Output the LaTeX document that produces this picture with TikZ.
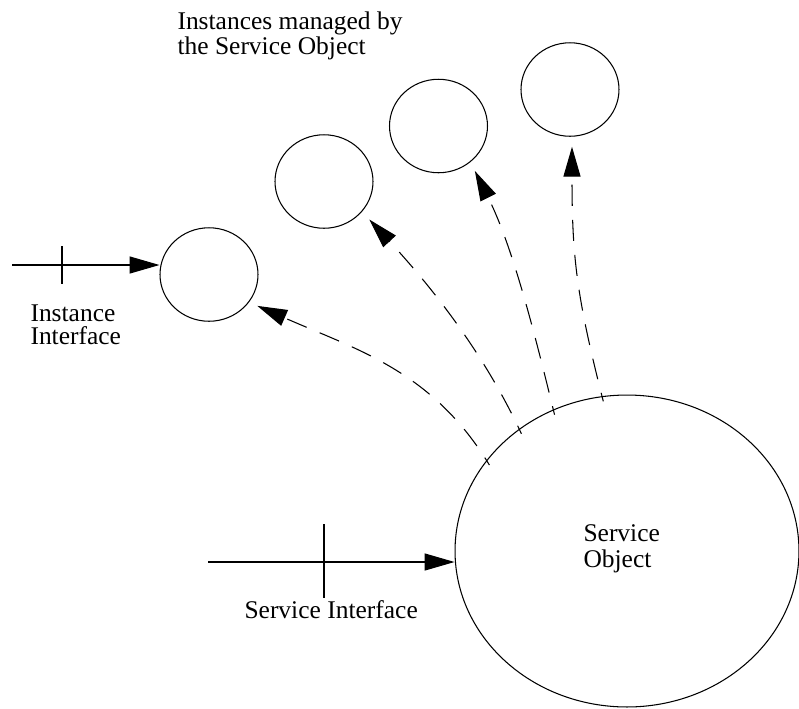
\documentclass[tikz,border=0pt]{standalone}
\usepackage{fontspec}
\setmainfont{Liberation Serif}
\usetikzlibrary{arrows.meta,shapes.geometric,calc}
\begin{document}
\begin{tikzpicture}[x=0.02cm,y=-0.02cm,line width=0.6pt,
  inst/.style={draw,ellipse,inner sep=0pt,minimum width=1.96cm,minimum height=1.87cm},
  svc/.style={draw,ellipse,inner sep=0pt,minimum width=6.88cm,minimum height=6.24cm},
  lbl/.style={inner sep=0pt,align=left},
  solidarr/.style={-{Triangle[length=17pt,width=9.7pt]}},
  dasharr/.style={dash pattern=on 12pt off 8pt,dash phase=7pt,-{Triangle[length=17pt,width=9.7pt]}}]
\useasboundingbox (0,0) rectangle (799,708);

% instance objects
\node[inst] (i1) at (209,274.5) {};
\node[inst] (i2) at (324,181.5) {};
\node[inst] (i3) at (438.5,126) {};
\node[inst] (i4) at (570,89.5) {};

% the service object
\node[svc] (so) at (627,551) {};
\node[lbl,anchor=north west,font=\fontsize{14.5pt}{14.8pt}\selectfont] (solbl) at (583,524) {Service\\Object};

% labels
\node[lbl,anchor=north west,font=\fontsize{14.5pt}{12.3pt}\selectfont] (title) at (177,11) {Instances managed by\\the Service Object};
\node[lbl,anchor=north west,font=\fontsize{14.5pt}{13.2pt}\selectfont] (iilbl) at (30,304) {Instance\\Interface};
\node[lbl,anchor=base west,font=\fontsize{14.5pt}{14pt}\selectfont] (silbl) at (244,618) {Service Interface};

% instance interface
\coordinate (iis) at (12,265);
\draw[solidarr] (iis) -- (i1.west |- iis);
\draw (62,246) -- (62,284);

% service interface
\coordinate (sis) at (208,562);
\draw[solidarr] (sis) -- (so.west |- sis);
\draw (324,524) -- (324,598);

% instances created by the service object
\draw[dasharr] ($(so.148)!3pt!(so.center)$) .. controls +(-57,-94) and +(100,44) .. ($(i1.-33)!-5pt!(i1.center)$);
\draw[dasharr] ($(so.132)!3pt!(so.center)$) .. controls +(-38,-82) and +(61,66) .. ($(i2.-40)!-6pt!(i2.center)$);
\draw[dasharr] ($(so.118)!3pt!(so.center)$) .. controls +(-20,-82) and +(38,76) .. ($(i3.-51)!-5.5pt!(i3.center)$);
\draw[dasharr] ($(so.99)!3pt!(so.center)$) .. controls +(-27,-106) and +(0,110) .. ($(i4.-88)!-5.7pt!(i4.center)$);
\end{tikzpicture}
\end{document}
